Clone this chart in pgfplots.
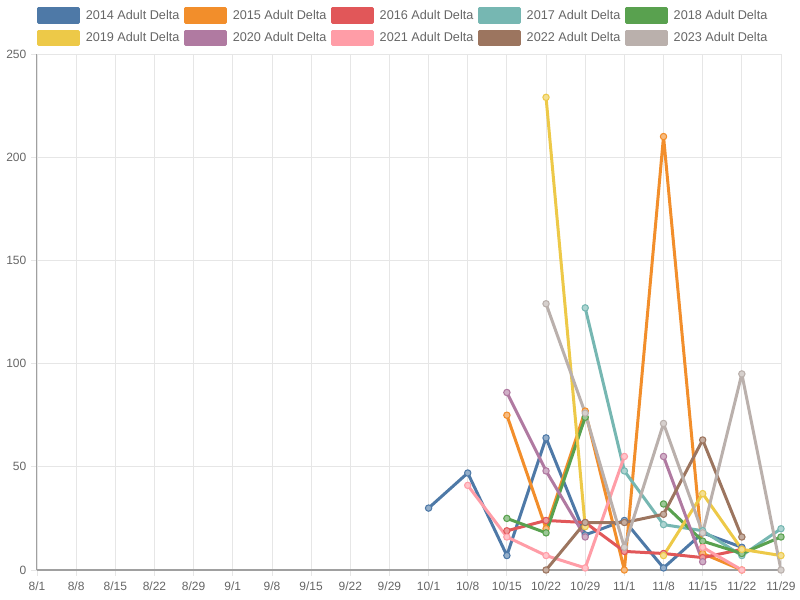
\documentclass[border=0pt]{standalone}
\usepackage{pgfplots}
\pgfplotsset{compat=1.18}
\usepackage{fontspec}
\setmainfont{Liberation Sans}
\definecolor{c14}{HTML}{4E79A7}
\definecolor{c15}{HTML}{F28E2B}
\definecolor{c16}{HTML}{E15759}
\definecolor{c17}{HTML}{76B7B2}
\definecolor{c18}{HTML}{59A14F}
\definecolor{c19}{HTML}{EDC948}
\definecolor{c20}{HTML}{B07AA1}
\definecolor{c21}{HTML}{FF9DA7}
\definecolor{c22}{HTML}{9C755F}
\definecolor{c23}{HTML}{BAB0AC}
\definecolor{txt}{HTML}{666666}
\definecolor{gridc}{HTML}{E6E6E6}
\definecolor{axc}{HTML}{A0A0A0}
\begin{document}
\begin{tikzpicture}
\useasboundingbox (-27.75pt,-22.5pt) rectangle (572.25pt,427.5pt);
\begin{axis}[
  at={(0pt,0pt)}, anchor=south west,
  scale only axis, width=558pt, height=387pt,
  xmin=0, xmax=19, ymin=0, ymax=250,
  xtick={0,...,19},
  xticklabels={8/1,8/8,8/15,8/22,8/29,9/1,9/8,9/15,9/22,9/29,10/1,10/8,10/15,10/22,10/29,11/1,11/8,11/15,11/22,11/29},
  ytick={0,50,100,150,200,250},
  /pgf/number format/assume math mode=true,
  tick label style={font=\fontsize{9}{11}\selectfont, text=txt},
  xticklabel style={yshift=-1pt},
  grid=major, major grid style={gridc, line width=0.6pt},
  axis line style={axc, line width=0.75pt},
  axis x line*=bottom, axis y line*=left,
  tick align=outside, major tick length=4.5pt,
  tick style={gridc, line width=0.6pt},
  unbounded coords=jump,
  every axis plot/.append style={line width=2.25pt, line join=round},
  legend columns=5,
  legend style={draw=none, fill=none, at={(0.4925,1.0)}, anchor=south, yshift=3.5pt,
    font=\fontsize{9.5}{11.5}\selectfont, text=txt,
    /tikz/every even column/.append style={column sep=1.25pt},
    /tikz/every odd column/.append style={column sep=2.5pt},
    row sep=4pt},
  legend image code/.code={\fill[#1] (0pt,-5.2pt) rectangle (30pt,5.2pt);},
]
\addplot[c14, mark=*, mark size=2.4pt, mark options={fill=c14!60, line width=0.8pt}] coordinates {(10,30)(11,47)(12,7)(13,64)(14,17)(15,24)(16,1)(17,18)(18,11)};
\addlegendentry{2014 Adult Delta}
\addplot[c15, mark=*, mark size=2.4pt, mark options={fill=c15!60, line width=0.8pt}] coordinates {(12,75)(13,20)(14,77)(15,0)(16,210)(17,8)(18,0)};
\addlegendentry{2015 Adult Delta}
\addplot[c16, mark=*, mark size=2.4pt, mark options={fill=c16!60, line width=0.8pt}] coordinates {(12,19)(13,24)(14,23)(15,9)(16,8)(17,6)(18,10)};
\addlegendentry{2016 Adult Delta}
\addplot[c17, mark=*, mark size=2.4pt, mark options={fill=c17!60, line width=0.8pt}] coordinates {(14,127)(15,48)(16,22)(17,19)(18,7)(19,20)};
\addlegendentry{2017 Adult Delta}
\addplot[c18, mark=*, mark size=2.4pt, mark options={fill=c18!60, line width=0.8pt}] coordinates {(12,25)(13,18)(14,74)(15,nan)(16,32)(17,14)(18,8)(19,16)};
\addlegendentry{2018 Adult Delta}
\addplot[c19, mark=*, mark size=2.4pt, mark options={fill=c19!60, line width=0.8pt}] coordinates {(13,229)(14,21)(15,nan)(16,7)(17,37)(18,10)(19,7)};
\addlegendentry{2019 Adult Delta}
\addplot[c20, mark=*, mark size=2.4pt, mark options={fill=c20!60, line width=0.8pt}] coordinates {(12,86)(13,48)(14,16)(15,nan)(16,55)(17,4)};
\addlegendentry{2020 Adult Delta}
\addplot[c21, mark=*, mark size=2.4pt, mark options={fill=c21!60, line width=0.8pt}] coordinates {(11,41)(12,16)(13,7)(14,1)(15,55)(16,nan)(17,11)(18,0)};
\addlegendentry{2021 Adult Delta}
\addplot[c22, mark=*, mark size=2.4pt, mark options={fill=c22!60, line width=0.8pt}] coordinates {(13,0)(14,23)(15,23)(16,27)(17,63)(18,16)};
\addlegendentry{2022 Adult Delta}
\addplot[c23, mark=*, mark size=2.4pt, mark options={fill=c23!60, line width=0.8pt}] coordinates {(13,129)(14,76)(15,11)(16,71)(17,18)(18,95)(19,0)};
\addlegendentry{2023 Adult Delta}
\end{axis}
\end{tikzpicture}
\end{document}
